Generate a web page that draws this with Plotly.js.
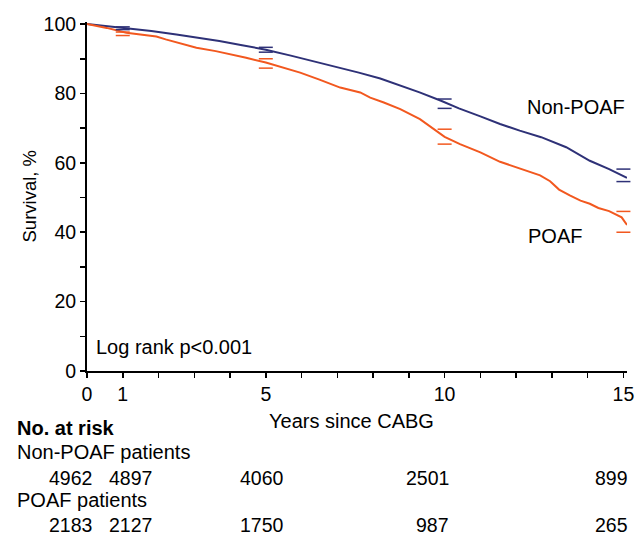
<!DOCTYPE html>
<html>
<head>
<meta charset="utf-8">
<script src="https://cdn.plot.ly/plotly-3.0.1.min.js"></script>
<style>html,body{margin:0;padding:0;background:#fff;}#chart{width:638px;height:535px;}</style>
</head>
<body>
<div id="chart"></div>
<script>
// Kaplan-Meier survival estimates (years since CABG, survival %)
const nonPoafTimes = [0, 0.5, 1.1, 1.8, 2.5, 3.1, 3.7, 4.3, 5.0, 5.7, 6.5, 7.0, 7.6, 8.2, 8.8, 9.3, 9.9, 10.4, 11.0, 11.55, 12.1, 12.7, 13.4, 14.06, 14.6, 15.1];
const nonPoafSurv  = [100, 99.5, 98.8, 98.0, 97.0, 96.1, 95.1, 94.0, 92.6, 90.9, 88.9, 87.6, 86.0, 84.3, 82.2, 80.3, 77.9, 75.7, 73.4, 71.2, 69.3, 67.4, 64.5, 60.6, 58.2, 55.7];
const poafTimes = [0, 0.3, 0.55, 1.1, 1.94, 2.2, 3.06, 3.6, 4.17, 4.45, 5.0, 5.5, 5.96, 6.5, 7.08, 7.64, 7.92, 8.3, 8.76, 9.31, 9.87, 10.0, 10.43, 11.0, 11.55, 12.1, 12.67, 12.95, 13.2, 13.5, 13.8, 14.06, 14.3, 14.6, 14.95, 15.1];
const poafSurv  = [100, 99.4, 98.9, 97.5, 96.4, 95.6, 93.2, 92.2, 91.0, 90.3, 88.9, 87.5, 86.0, 84.0, 81.7, 80.3, 78.8, 77.4, 75.5, 72.6, 68.5, 67.5, 65.4, 63.0, 60.3, 58.3, 56.4, 54.7, 52.3, 50.6, 49.1, 48.2, 47.0, 46.1, 44.3, 42.1];

// 95% confidence limits at selected times
const ciTimes = [1, 5, 10, 15];
const nonPoafUpper = [99.2, 93.3, 78.4, 58.2];
const nonPoafLower = [98.4, 91.9, 75.7, 54.6];
const poafUpper = [97.7, 90.0, 69.7, 46.0];
const poafLower = [96.7, 87.3, 65.4, 40.0];

// Axis ticks
const xTickVals = [0,1,2,3,4,5,6,7,8,9,10,11,12,13,14,15];
const xTickText = ['0','1','','','','5','','','','','10','','','','','15'];
const yTickVals = [0,10,20,30,40,50,60,70,80,90,100];
const yTickText = ['0','','20','','40','','60','','80','','100'];

// Number at risk table
const riskTimes = [0, 1, 5, 10, 15];
const riskNonPoaf = [4962, 4897, 4060, 2501, 899];
const riskPoaf = [2183, 2127, 1750, 987, 265];

const navy = '#2E3177';
const orange = '#F2581F';
const font = 'Liberation Sans, Arial, Helvetica, sans-serif';
const fsText = 20;
const fsNum = 19.5;

const traces = [
  {x: nonPoafTimes, y: nonPoafSurv, mode: 'lines', line: {color: navy, width: 2}, hoverinfo: 'skip'},
  {x: poafTimes, y: poafSurv, mode: 'lines', line: {color: orange, width: 2}, hoverinfo: 'skip'},
  {x: ciTimes.concat(ciTimes), y: nonPoafUpper.concat(nonPoafLower), mode: 'markers',
   marker: {symbol: 'line-ew', size: 10, line: {color: navy, width: 1.5}}, cliponaxis: false},
  {x: ciTimes.concat(ciTimes), y: poafUpper.concat(poafLower), mode: 'markers',
   marker: {symbol: 'line-ew', size: 10, line: {color: orange, width: 1.5}}, cliponaxis: false}
];

// Plot area in pixels
const L = 87, R = 11, T = 22, B = 164;
const H = 535 - T - B;
function py(p) { return (535 - B - p) / H; } // pixel y -> paper y

const riskShift = [7, 31, 20, 6, 7];
const ann = [];
for (let i = 0; i < riskTimes.length; i++) {
  ann.push({x: riskTimes[i], xref: 'x', y: py(478), yref: 'paper', text: String(riskNonPoaf[i]),
            xanchor: 'right', yanchor: 'middle', xshift: riskShift[i], showarrow: false, font: {size: fsNum}});
  ann.push({x: riskTimes[i], xref: 'x', y: py(525), yref: 'paper', text: String(riskPoaf[i]),
            xanchor: 'right', yanchor: 'middle', xshift: riskShift[i], showarrow: false, font: {size: fsNum}});
}
ann.push({x: 0, xref: 'paper', y: py(428), yref: 'paper', text: '<b>No. at risk</b>', xanchor: 'left', yanchor: 'middle', showarrow: false, xshift: 15 - L});
ann.push({x: 0, xref: 'paper', y: py(452), yref: 'paper', text: 'Non-POAF patients', xanchor: 'left', yanchor: 'middle', showarrow: false, xshift: 15 - L});
ann.push({x: 0, xref: 'paper', y: py(500), yref: 'paper', text: 'POAF patients', xanchor: 'left', yanchor: 'middle', showarrow: false, xshift: 15 - L});
ann.push({x: 0, xref: 'paper', y: py(347), yref: 'paper', text: 'Log rank p<0.001', xanchor: 'left', yanchor: 'middle', showarrow: false, xshift: 7});
ann.push({x: 15, xref: 'x', y: py(107), yref: 'paper', text: 'Non-POAF', xanchor: 'right', yanchor: 'middle', showarrow: false, xshift: 4});
ann.push({x: 15, xref: 'x', y: py(236), yref: 'paper', text: 'POAF', xanchor: 'right', yanchor: 'middle', showarrow: false, xshift: -39});
ann.push({x: 0.5, xref: 'paper', y: py(421), yref: 'paper', text: 'Years since CABG', xanchor: 'center', yanchor: 'middle', showarrow: false, xshift: -6});
ann.push({x: 0, xref: 'paper', y: 0.5, yref: 'paper', text: 'Survival, %', textangle: -90, xanchor: 'center', yanchor: 'middle', showarrow: false, xshift: 29 - L, font: {size: 18.5}});

const layout = {
  width: 638, height: 535,
  margin: {l: L, r: R, t: T, b: B},
  paper_bgcolor: '#fff', plot_bgcolor: '#fff',
  showlegend: false,
  font: {family: font, size: fsText, color: '#000'},
  xaxis: {range: [0, 15.1], showgrid: false, zeroline: false, showline: true, linecolor: '#000', linewidth: 2,
          tickmode: 'array', tickvals: xTickVals, ticktext: xTickText, ticks: 'outside', ticklen: 5, tickwidth: 1.5, tickcolor: '#000',
          tickfont: {family: font, size: fsNum}, fixedrange: true},
  yaxis: {range: [0, 100.6], showgrid: false, zeroline: false, showline: true, linecolor: '#000', linewidth: 2,
          tickmode: 'array', tickvals: yTickVals, ticktext: yTickText, ticks: 'outside', ticklen: 5, tickwidth: 1.5, tickcolor: '#000',
          tickfont: {family: font, size: fsNum}, fixedrange: true},
  annotations: ann.map(a => Object.assign({}, a, {font: Object.assign({family: font, size: fsText, color: '#000'}, a.font || {})}))
};

Plotly.newPlot('chart', traces, layout, {staticPlot: true});
</script>
</body>
</html>
